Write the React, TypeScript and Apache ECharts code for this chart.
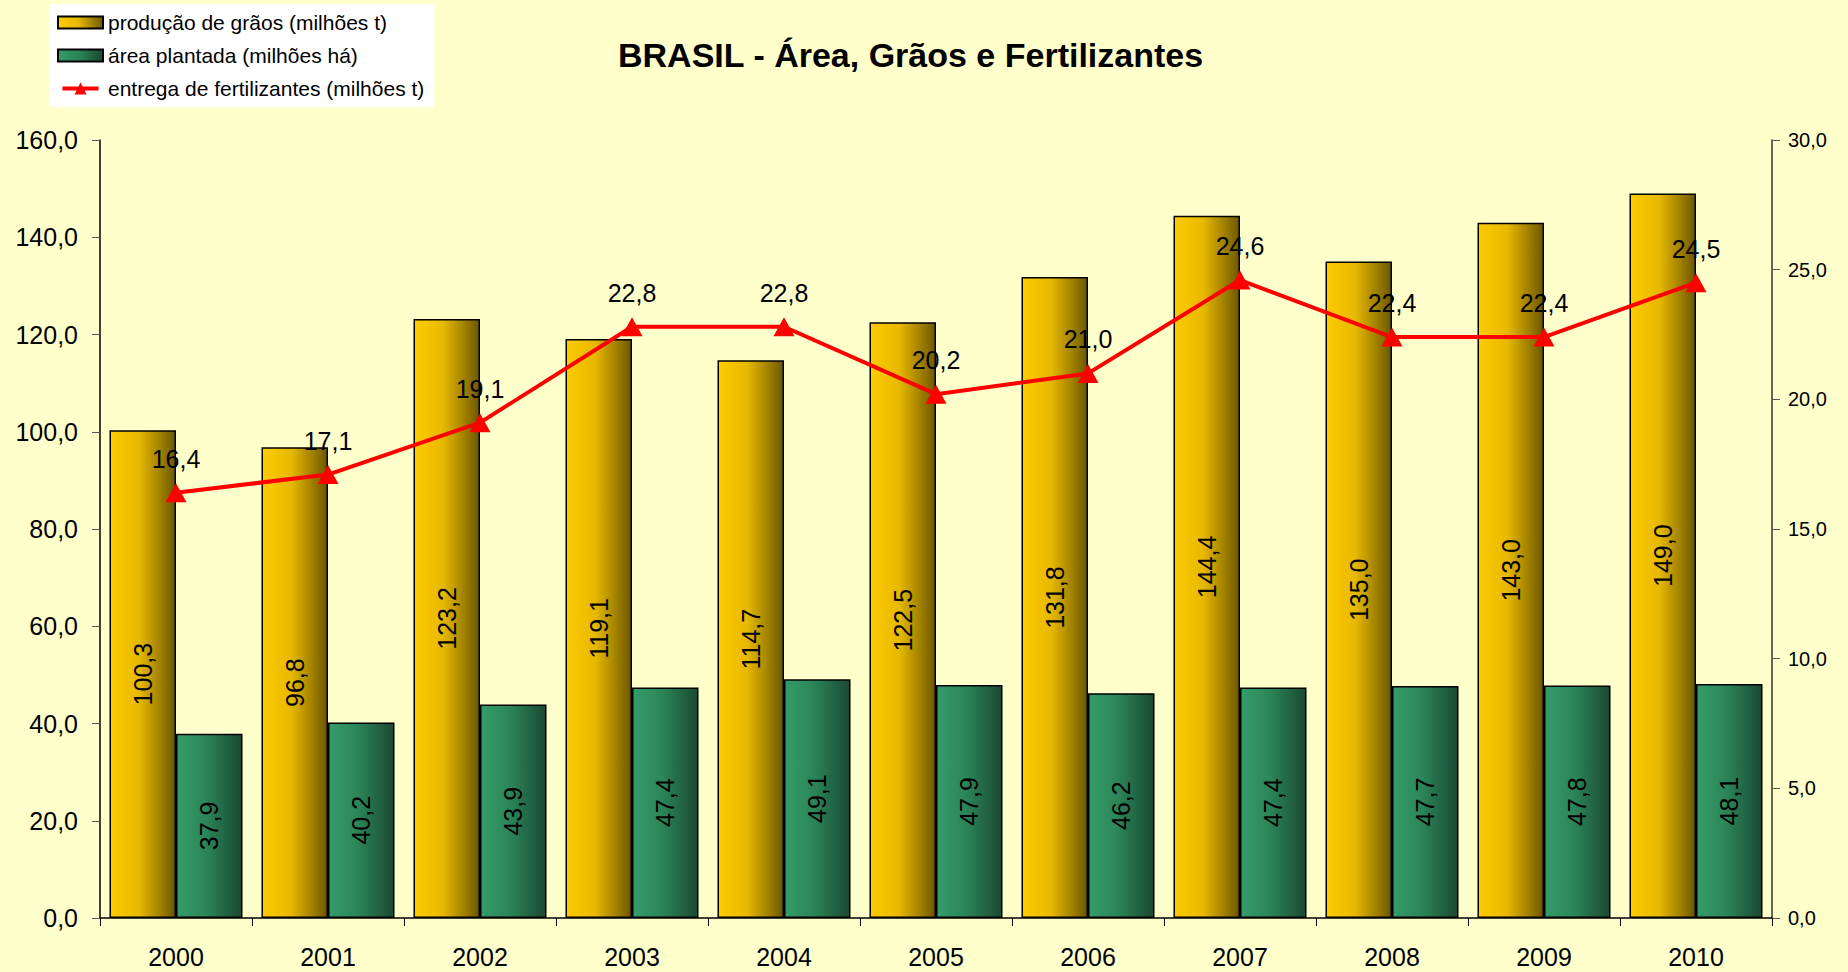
import React, { useEffect, useRef } from "react";
import * as echarts from "echarts";

const years = ["2000", "2001", "2002", "2003", "2004", "2005", "2006", "2007", "2008", "2009", "2010"];
const graos = [100.3, 96.8, 123.2, 119.1, 114.7, 122.5, 131.8, 144.4, 135.0, 143.0, 149.0];
const area = [37.9, 40.2, 43.9, 47.4, 49.1, 47.9, 46.2, 47.4, 47.7, 47.8, 48.1];
const fert = [16.4, 17.1, 19.1, 22.8, 22.8, 20.2, 21.0, 24.6, 22.4, 22.4, 24.5];

const nameGraos = "produção de grãos (milhões t)";
const nameArea = "área plantada (milhões há)";
const nameFert = "entrega de fertilizantes (milhões t)";

const FONT = "Liberation Sans, Arial, sans-serif";
const fmt = (v: number) => v.toFixed(1).replace(".", ",");

export default function App() {
  const ref = useRef<HTMLDivElement>(null);
  useEffect(() => {
    if (!ref.current) return;
    const chart = echarts.init(ref.current, undefined, { renderer: "svg" });
    const yellow = new echarts.graphic.LinearGradient(0, 0, 1, 0, [
      { offset: 0, color: "#FFCC00" },
      { offset: 0.45, color: "#E6B800" },
      { offset: 1, color: "#6E5800" },
    ]);
    const green = new echarts.graphic.LinearGradient(0, 0, 1, 0, [
      { offset: 0, color: "#349C6A" },
      { offset: 0.45, color: "#2C8558" },
      { offset: 1, color: "#1A4932" },
    ]);
    chart.setOption({
      animation: false,
      backgroundColor: "#FFFFCC",
      textStyle: { fontFamily: FONT },
      title: {
        text: "BRASIL - Área, Grãos e Fertilizantes",
        left: 618,
        top: 38,
        padding: 0,
        textStyle: { fontFamily: FONT, fontSize: 34, fontWeight: "bold", color: "#000" },
      },
      legend: {
        orient: "vertical",
        left: 49,
        top: 4,
        padding: [8, 10, 8, 8],
        backgroundColor: "#FFFFFF",
        itemWidth: 45,
        itemHeight: 12,
        itemGap: 12,
        textStyle: { fontFamily: FONT, fontSize: 21, color: "#000", lineHeight: 21 },
        data: [
          { name: nameGraos, icon: "rect" },
          { name: nameArea, icon: "rect" },
          {
            name: nameFert,
            icon: "path://M0,5L45,5L45,10L0,10Z M15,15L22.5,0L30,15Z",
            itemStyle: { color: "#FF0000", borderWidth: 0 },
          },
        ],
      },
      grid: { left: 100, right: 76, top: 140, bottom: 54 },
      xAxis: {
        type: "category",
        data: years,
        axisLine: { lineStyle: { color: "#000", width: 1.5 } },
        axisTick: { show: true, length: 8, lineStyle: { color: "#000" } },
        axisLabel: { fontFamily: FONT, fontSize: 25, color: "#000", margin: 26 },
      },
      yAxis: [
        {
          type: "value",
          min: 0,
          max: 160,
          interval: 20,
          axisLine: { show: true, lineStyle: { color: "#000", width: 1.5 } },
          axisTick: { show: true, length: 8, lineStyle: { color: "#555" } },
          splitLine: { show: false },
          axisLabel: { fontFamily: FONT, fontSize: 25, color: "#000", margin: 22, formatter: (v: number) => fmt(v) },
        },
        {
          type: "value",
          min: 0,
          max: 30,
          interval: 5,
          position: "right",
          axisLine: { show: true, lineStyle: { color: "#333", width: 1.5 } },
          axisTick: { show: true, length: 8, lineStyle: { color: "#555" } },
          splitLine: { show: false },
          axisLabel: { fontFamily: FONT, fontSize: 20, color: "#000", margin: 16, formatter: (v: number) => fmt(v) },
        },
      ],
      series: [
        {
          name: nameGraos,
          type: "bar",
          data: graos,
          barGap: "0%",
          barCategoryGap: "12.5%",
          itemStyle: { color: yellow, borderColor: "#000", borderWidth: 1.5 },
          label: {
            show: true,
            position: "inside",
            rotate: 90,
            fontFamily: FONT,
            fontSize: 25,
            color: "#000",
            formatter: (p: any) => fmt(p.value),
          },
        },
        {
          name: nameArea,
          type: "bar",
          data: area,
          barGap: "0%",
          barCategoryGap: "12.5%",
          itemStyle: { color: green, borderColor: "#000", borderWidth: 1.5 },
          label: {
            show: true,
            position: "inside",
            rotate: 90,
            fontFamily: FONT,
            fontSize: 25,
            color: "#000",
            formatter: (p: any) => fmt(p.value),
          },
        },
        {
          name: nameFert,
          type: "line",
          yAxisIndex: 1,
          data: fert,
          symbol: "triangle",
          symbolSize: [21, 19],
          lineStyle: { color: "#FF0000", width: 4 },
          itemStyle: { color: "#FF0000" },
          label: {
            show: true,
            position: "top",
            distance: 12,
            fontFamily: FONT,
            fontSize: 25,
            color: "#000",
            formatter: (p: any) => fmt(p.value),
          },
          z: 5,
        },
      ],
    });
    return () => chart.dispose();
  }, []);
  return (
    <div
      ref={ref}
      style={{ position: "absolute", left: 0, top: 0, width: 1848, height: 972 }}
    />
  );
}
